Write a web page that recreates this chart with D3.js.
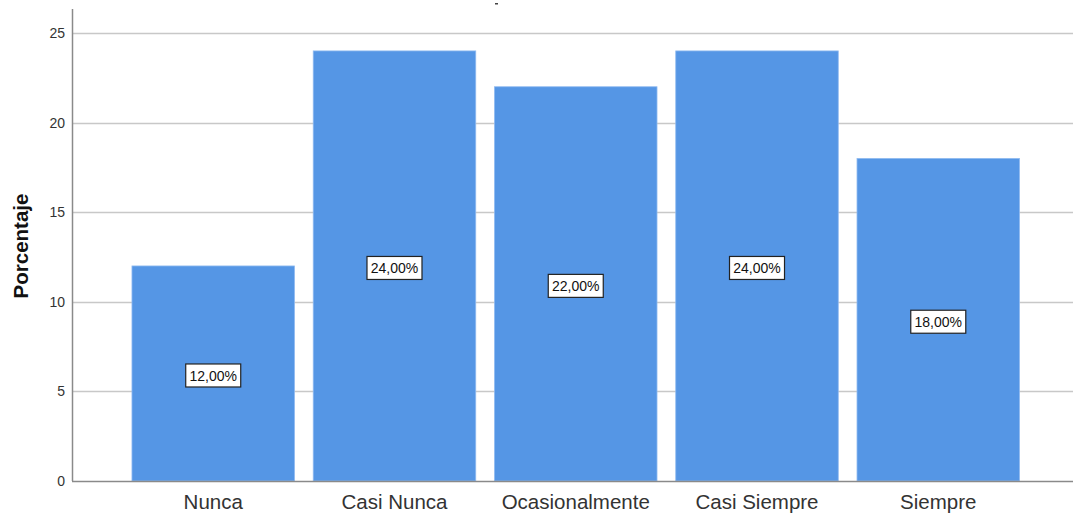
<!DOCTYPE html>
<html><head><meta charset="utf-8">
<script src="https://cdn.jsdelivr.net/npm/d3@7"></script>
<style>body{margin:0;background:#fff}svg{display:block}</style>
</head><body>
<svg id="c" width="1073" height="515"></svg>
<script>
const categories = ["Nunca", "Casi Nunca", "Ocasionalmente", "Casi Siempre", "Siempre"];
const values = [12, 24, 22, 24, 18];
const valueLabels = ["12,00%", "24,00%", "22,00%", "24,00%", "18,00%"];
const yTicks = [0, 5, 10, 15, 20, 25];

const svg = d3.select("#c");
const axisX = 72, plotTop = 9, plotBottom = 481, plotRight = 1073;
const FONT = "Arial, 'Liberation Sans', sans-serif";

const y = d3.scaleLinear().domain([0, 25]).range([plotBottom, 33]);
const x = d3.scaleBand().domain(categories).range([122.6, 1028.9]).paddingInner(0.1034).paddingOuter(0.0517);

// gridlines
svg.append("g").selectAll("line").data(yTicks.filter(d => d > 0)).join("line")
  .attr("x1", axisX).attr("x2", plotRight)
  .attr("y1", d => Math.round(y(d)) + 0.5).attr("y2", d => Math.round(y(d)) + 0.5)
  .attr("stroke", "#c8c8c8").attr("stroke-width", 1.3);

// bars
svg.append("g").selectAll("rect").data(values).join("rect")
  .attr("x", (d, i) => x(categories[i]))
  .attr("width", x.bandwidth())
  .attr("y", d => y(d))
  .attr("height", d => plotBottom - y(d))
  .attr("fill", "#5596e5")
  .attr("stroke", "#8fbaf0").attr("stroke-width", 0.8);

// axes lines
svg.append("line").attr("x1", axisX + 0.5).attr("x2", axisX + 0.5).attr("y1", plotTop).attr("y2", plotBottom)
  .attr("stroke", "#8a8a8a").attr("stroke-width", 1.5);
svg.append("line").attr("x1", axisX).attr("x2", plotRight).attr("y1", plotBottom + 0.5).attr("y2", plotBottom + 0.5)
  .attr("stroke", "#8a8a8a").attr("stroke-width", 1.5);

// y tick labels
svg.append("g").selectAll("text").data(yTicks).join("text")
  .attr("x", 65).attr("y", d => y(d)).attr("dy", "0.35em")
  .attr("text-anchor", "end")
  .attr("font-family", FONT).attr("font-size", 14)
  .attr("fill", "#333").text(d => d);

// x labels
svg.append("g").selectAll("text").data(categories).join("text")
  .attr("x", d => x(d) + x.bandwidth() / 2).attr("y", 509)
  .attr("text-anchor", "middle")
  .attr("font-family", FONT).attr("font-size", 20.5)
  .attr("fill", "#333").text(d => d);

// y title
svg.append("text").attr("transform", "translate(28,246) rotate(-90)")
  .attr("text-anchor", "middle")
  .attr("font-family", FONT).attr("font-size", 20.5).attr("font-weight", "bold")
  .attr("fill", "#111").text("Porcentaje");

// value labels
const lab = svg.append("g").selectAll("g").data(values).join("g")
  .attr("transform", (d, i) => `translate(${x(categories[i]) + x.bandwidth() / 2},${y(d / 2) + 2})`);
lab.append("rect").attr("x", -27.5).attr("y", -11.5).attr("width", 55).attr("height", 23)
  .attr("fill", "#fff").attr("stroke", "#222").attr("stroke-width", 1.2);
lab.append("text").attr("text-anchor", "middle").attr("dy", "0.36em")
  .attr("font-family", FONT).attr("font-size", 14)
  .attr("fill", "#111").text((d, i) => valueLabels[i]);

// tiny remnant mark at top (clipped title)
svg.append("rect").attr("x", 495).attr("y", 3).attr("width", 3).attr("height", 1.5).attr("fill", "#444");
</script>
</body></html>
